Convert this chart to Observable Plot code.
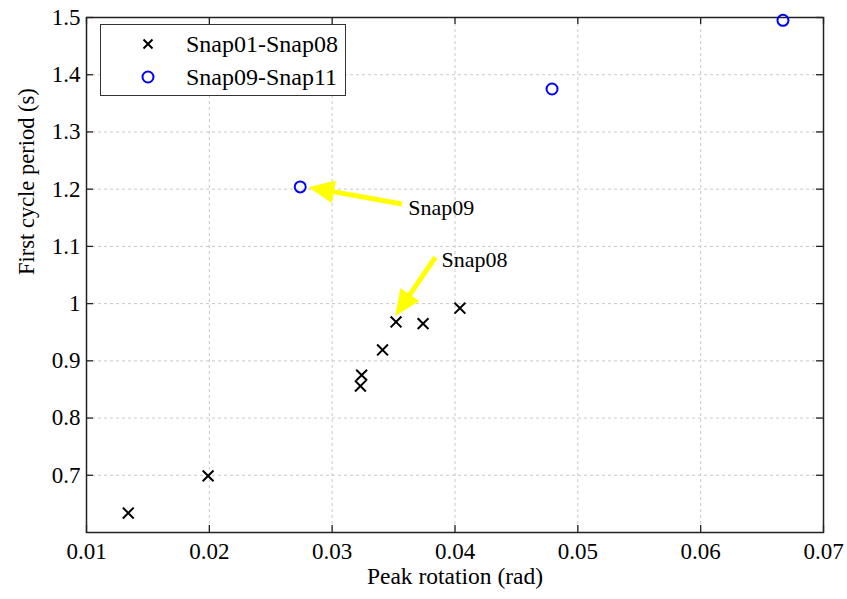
<!DOCTYPE html>
<html>
<head>
<meta charset="utf-8">
<script src="https://cdn.jsdelivr.net/npm/d3@7"></script>
<script src="https://cdn.jsdelivr.net/npm/@observablehq/plot@0.6"></script>
<style>
  body { margin: 0; background: #fff; }
  #wrap { position: relative; width: 847px; height: 599px; font-family: 'Liberation Serif', 'Times New Roman', Tinos, 'DejaVu Serif', serif; }
  #legend { position: absolute; left: 100px; top: 24px; width: 246px; height: 72px; border: 1.3px solid #333; background: #fff; box-sizing: border-box; }
  #legend .row { position: absolute; left: 0; height: 30px; display: flex; align-items: center; font-size: 24px; color: #000; }
  #legend svg { position: absolute; left: 37px; }
  #legend span { position: absolute; left: 85px; white-space: nowrap; }
</style>
</head>
<body>
<div id="wrap">
  <div id="chart"></div>
  <div id="legend">
    <div class="row" style="top:4px"><svg width="20" height="20" viewBox="-10 -10 20 20"><path d="M-4.5,-4.5L4.5,4.5M4.5,-4.5L-4.5,4.5" stroke="#000" stroke-width="2"/></svg><span>Snap01-Snap08</span></div>
    <div class="row" style="top:37px"><svg width="20" height="20" viewBox="-10 -10 20 20"><circle r="5.5" fill="none" stroke="#0000ff" stroke-width="2"/></svg><span>Snap09-Snap11</span></div>
  </div>
</div>
<script>
// Series: Snap01-Snap08 (crosses)
const snap01to08X = [0.0134, 0.0199, 0.0323, 0.0324, 0.0341, 0.0352, 0.0374, 0.0404];
const snap01to08Y = [0.634, 0.699, 0.856, 0.875, 0.919, 0.968, 0.965, 0.992];
// Series: Snap09-Snap11 (circles)
const snap09to11X = [0.0274, 0.0479, 0.0667];
const snap09to11Y = [1.204, 1.375, 1.495];
// Annotations
const annLabels = ["Snap09", "Snap08"];
const annTextX = [0.0362, 0.0389];
const annTextY = [1.168, 1.077];
const arrowX1 = [0.0357, 0.0384];
const arrowY1 = [1.174, 1.081];
const arrowX2 = [0.0287, 0.0355];
const arrowY2 = [1.201, 0.990];
// Axes
const xTicks = [0.01, 0.02, 0.03, 0.04, 0.05, 0.06, 0.07];
const yTicks = [0.7, 0.8, 0.9, 1.0, 1.1, 1.2, 1.3, 1.4, 1.5];
const xDomain = [0.01, 0.07];
const yDomain = [0.6, 1.5];

const crosses = snap01to08X.map((x, i) => ({x, y: snap01to08Y[i]}));
const circles = snap09to11X.map((x, i) => ({x, y: snap09to11Y[i]}));
const anns = annLabels.map((t, i) => ({t, x: annTextX[i], y: annTextY[i]}));
const arrows = arrowX1.map((x1, i) => ({x1, y1: arrowY1[i], x2: arrowX2[i], y2: arrowY2[i]}));

const FONT = "'Liberation Serif', 'Times New Roman', Tinos, 'DejaVu Serif', serif";
const W = 847, H = 599, mL = 86, mR = 24, mT = 17, mB = 67;
const tickLenX = (yDomain[1] - yDomain[0]) * 7 / (H - mT - mB);
const tickLenY = (xDomain[1] - xDomain[0]) * 7 / (W - mL - mR);
const fmt = d => d3.format("")(+d.toFixed(2));

const chart = Plot.plot({
  width: W, height: H,
  marginLeft: mL, marginRight: mR, marginTop: mT, marginBottom: mB,
  style: {fontFamily: FONT, fontSize: "23px", color: "#000", background: "#fff"},
  x: {domain: xDomain, ticks: xTicks, tickFormat: fmt},
  y: {domain: yDomain, ticks: yTicks, tickFormat: fmt},
  marks: [
    Plot.gridX(xTicks, {stroke: "#c8c8c8", strokeOpacity: 1, strokeDasharray: "3,3", strokeWidth: 1}),
    Plot.gridY(yTicks, {stroke: "#c8c8c8", strokeOpacity: 1, strokeDasharray: "3,3", strokeWidth: 1}),
    Plot.axisX(xTicks, {tickSize: 0, tickPadding: 10, fontSize: 23, fontFamily: FONT, label: null, tickFormat: fmt}),
    Plot.axisY(yTicks, {tickSize: 0, tickPadding: 6, fontSize: 23, fontFamily: FONT, label: null, tickFormat: fmt}),
    Plot.ruleX(xTicks, {x: d => d, y1: yDomain[0], y2: yDomain[0] + tickLenX, stroke: "#222", strokeWidth: 1.3}),
    Plot.ruleX(xTicks, {x: d => d, y1: yDomain[1], y2: yDomain[1] - tickLenX, stroke: "#222", strokeWidth: 1.3}),
    Plot.ruleY(yTicks, {y: d => d, x1: xDomain[0], x2: xDomain[0] + tickLenY, stroke: "#222", strokeWidth: 1.3}),
    Plot.ruleY(yTicks, {y: d => d, x1: xDomain[1], x2: xDomain[1] - tickLenY, stroke: "#222", strokeWidth: 1.3}),
    Plot.frame({stroke: "#222", strokeWidth: 1.5}),
    Plot.dot(crosses, {x: "x", y: "y", symbol: "times", r: 5, stroke: "#000", strokeWidth: 2}),
    Plot.dot(circles, {x: "x", y: "y", symbol: "circle", r: 5.5, stroke: "#0000ff", strokeWidth: 2, fill: "none"}),
    Plot.link(arrows, {x1: "x1", y1: "y1", x2: "x2", y2: "y2", stroke: "#ffff00", strokeWidth: 5, className: "ann-arrow"}),
    Plot.text(anns, {x: "x", y: "y", text: "t", textAnchor: "start", fontSize: 22, fontFamily: FONT, fill: "#000"}),
    Plot.text(["Peak rotation (rad)"], {frameAnchor: "bottom", dy: 51, fontSize: 23.5, fontFamily: FONT, fill: "#000"}),
    Plot.text(["First cycle period (s)"], {frameAnchor: "left", dx: -60, rotate: -90, fontSize: 22.5, fontFamily: FONT, fill: "#000"})
  ]
});
document.getElementById("chart").appendChild(chart);

// filled arrowheads
const svg = d3.select(chart);
const defs = svg.insert("defs", ":first-child");
defs.append("marker")
  .attr("id", "yhead").attr("markerUnits", "userSpaceOnUse")
  .attr("viewBox", "0 -12 26 24").attr("markerWidth", 26).attr("markerHeight", 24)
  .attr("refX", 18).attr("refY", 0).attr("orient", "auto")
  .append("path").attr("d", "M0,-11.5L26,0L0,11.5Z").attr("fill", "#ffff00");
svg.selectAll(".ann-arrow path").attr("marker-end", "url(#yhead)");
</script>
</body>
</html>
